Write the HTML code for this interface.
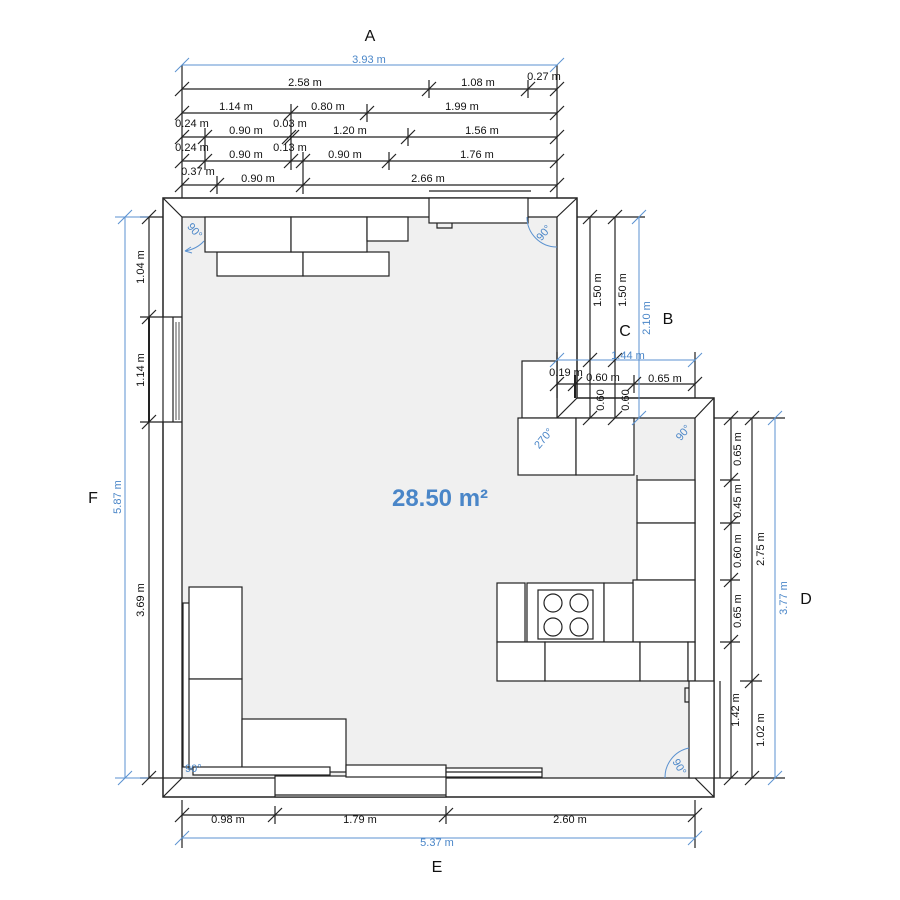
<!DOCTYPE html>
<html><head><meta charset="utf-8"><style>
html,body{margin:0;padding:0;background:#fff}
svg{display:block}
text{font-family:"Liberation Sans",sans-serif;font-size:11px;fill:#111}
.b{fill:#4a86c8}
.k{stroke:#222;stroke-width:1.2;fill:none}
.kb{stroke:#222;stroke-width:1.2;fill:#fff}
.bl{stroke:#5b92d0;stroke-width:1;fill:none}
</style></head><body>
<svg width="900" height="900" viewBox="0 0 900 900" xmlns="http://www.w3.org/2000/svg">
<defs>
<g id="t"><line x1="-7" y1="7" x2="7" y2="-7" stroke="#222" stroke-width="1.2"/></g>
<g id="tb"><line x1="-7" y1="7" x2="7" y2="-7" stroke="#5b92d0" stroke-width="1"/></g>
</defs>

<!-- walls -->
<polygon points="163,198 577,198 577,398 714,398 714,797 163,797" fill="#fff" stroke="#222" stroke-width="1.5"/>
<polygon points="182,217 557,217 557,418 695,418 695,778 182,778" fill="#f0f0f0" stroke="#222" stroke-width="1.3"/>
<line class="k" x1="163" y1="198" x2="182" y2="217"/>
<line class="k" x1="577" y1="198" x2="557" y2="217"/>
<line class="k" x1="577" y1="398" x2="557" y2="418"/>
<line class="k" x1="714" y1="398" x2="695" y2="418"/>
<line class="k" x1="714" y1="797" x2="695" y2="778"/>
<line class="k" x1="163" y1="797" x2="182" y2="778"/>
<!-- left window -->
<rect x="150" y="317" width="31" height="105" fill="#fff"/>
<line class="k" x1="163" y1="317" x2="182" y2="317"/>
<line class="k" x1="163" y1="422" x2="182" y2="422"/>
<line class="k" x1="163" y1="317" x2="163" y2="422"/>
<line class="k" x1="173" y1="317" x2="173" y2="422"/>
<line stroke="#222" stroke-width="0.8" x1="176" y1="322" x2="176" y2="420"/>
<line stroke="#222" stroke-width="0.8" x1="179" y1="322" x2="179" y2="420"/>
<!-- bottom door -->
<rect class="kb" x="275" y="776" width="171" height="21"/>
<line class="k" x1="275" y1="795" x2="446" y2="795"/>
<!-- top appliance -->
<rect class="kb" x="429" y="198" width="99" height="25"/>
<line class="k" x1="429" y1="191" x2="531" y2="191"/>
<path class="k" d="M437,223 v5 h15 v-5" stroke-width="2"/>

<!-- top cabinets -->
<rect class="kb" x="217" y="252" width="86" height="24"/>
<rect class="kb" x="303" y="252" width="86" height="24"/>
<rect class="kb" x="205" y="217" width="86" height="35"/>
<rect class="kb" x="291" y="217" width="76" height="35"/>
<rect class="kb" x="367" y="217" width="41" height="24" stroke-width="1.8"/>

<!-- right area cabinets -->
<rect class="kb" x="522" y="361" width="35" height="57"/>
<rect class="kb" x="518" y="418" width="58" height="57"/>
<rect class="kb" x="576" y="418" width="58" height="57"/>
<rect class="kb" x="637" y="480" width="58" height="43"/>
<rect class="kb" x="637" y="523" width="58" height="57"/>
<line class="k" x1="637" y1="475" x2="637" y2="480"/>
<rect class="kb" x="633" y="580" width="62" height="62"/>
<rect class="kb" x="497" y="583" width="28" height="59"/>
<rect class="kb" x="527" y="583" width="77" height="59"/>
<rect class="kb" x="604" y="583" width="29" height="59"/>
<rect class="kb" x="538" y="590" width="55" height="49"/>
<circle class="k" cx="553" cy="603" r="9"/><circle class="k" cx="579" cy="603" r="9"/>
<circle class="k" cx="553" cy="627" r="9"/><circle class="k" cx="579" cy="627" r="9"/>
<rect class="kb" x="497" y="642" width="48" height="39"/>
<rect class="kb" x="545" y="642" width="95" height="39"/>
<rect class="kb" x="640" y="642" width="48" height="39"/>
<rect class="kb" x="688" y="642" width="7" height="39"/>
<rect class="kb" x="689" y="681" width="25" height="97"/>
<path class="k" d="M689,688 h-4 v14 h4" stroke-width="2"/>

<!-- left furniture -->
<rect class="kb" x="183" y="603" width="10" height="164"/>
<rect class="kb" x="189" y="587" width="53" height="92"/>
<rect class="kb" x="189" y="679" width="53" height="90"/>
<rect class="kb" x="242" y="719" width="104" height="53"/>
<rect class="kb" x="193" y="767" width="137" height="8"/>
<rect class="kb" x="346" y="765" width="100" height="12"/>
<rect class="kb" x="446" y="768" width="96" height="9"/>
<line class="k" x1="446" y1="772" x2="542" y2="772"/>

<!-- angle arcs -->
<path class="bl" d="M204,241 Q197,249 185,251"/><path class="bl" d="M185,251 l6,-4 M185,251 l7,2"/>
<text class="b" x="186" y="232" transform="rotate(50 192 230)" font-size="10">90°</text>
<path class="bl" d="M527,217 A30,30 0 0 0 557,247"/>
<text class="b" x="535" y="236" transform="rotate(-50 544 232)" font-size="10">90°</text>
<path class="bl" d="M665,778 A30,30 0 0 1 689,748"/>
<text class="b" x="673" y="770" transform="rotate(60 680 765)" font-size="10">90°</text>
<text class="b" x="531" y="442" transform="rotate(-50 543 437)" font-size="10">270°</text>
<text class="b" x="674" y="437" transform="rotate(-50 682 432)" font-size="10">90°</text>
<text class="b" x="185" y="772" font-size="9">90°</text>

<!-- area -->
<text x="440" y="506" text-anchor="middle" style="font-size:24px;font-weight:bold;fill:#4a86c8">28.50 m²</text>

<!-- top dims -->
<g class="k">
<line x1="182" y1="65" x2="182" y2="198"/><line x1="557" y1="65" x2="557" y2="198"/>
<line x1="182" y1="89" x2="557" y2="89"/>
<line x1="182" y1="113" x2="557" y2="113"/>
<line x1="182" y1="137" x2="557" y2="137"/>
<line x1="182" y1="161" x2="557" y2="161"/>
<line x1="182" y1="185" x2="557" y2="185"/>
<line x1="429" y1="80" x2="429" y2="98"/><line x1="528" y1="80" x2="528" y2="98"/>
<line x1="291" y1="104" x2="291" y2="170"/><line x1="367" y1="104" x2="367" y2="122"/>
<line x1="205" y1="128" x2="205" y2="170"/><line x1="408" y1="128" x2="408" y2="146"/>
<line x1="303" y1="152" x2="303" y2="194"/><line x1="389" y1="152" x2="389" y2="170"/>
<line x1="217" y1="176" x2="217" y2="194"/>
</g>
<line class="bl" x1="182" y1="65" x2="557" y2="65"/>
<use href="#tb" x="182" y="65"/><use href="#tb" x="557" y="65"/>
<use href="#t" x="182" y="89"/><use href="#t" x="429" y="89"/><use href="#t" x="528" y="89"/><use href="#t" x="557" y="89"/>
<use href="#t" x="182" y="113"/><use href="#t" x="291" y="113"/><use href="#t" x="367" y="113"/><use href="#t" x="557" y="113"/>
<use href="#t" x="182" y="137"/><use href="#t" x="205" y="137"/><use href="#t" x="289" y="137"/><use href="#t" x="292" y="137"/><use href="#t" x="408" y="137"/><use href="#t" x="557" y="137"/>
<use href="#t" x="182" y="161"/><use href="#t" x="205" y="161"/><use href="#t" x="291" y="161"/><use href="#t" x="303" y="161"/><use href="#t" x="389" y="161"/><use href="#t" x="557" y="161"/>
<use href="#t" x="182" y="185"/><use href="#t" x="217" y="185"/><use href="#t" x="303" y="185"/><use href="#t" x="557" y="185"/>
<text class="b" x="369" y="63" text-anchor="middle">3.93 m</text>
<text x="305" y="86" text-anchor="middle">2.58 m</text><text x="478" y="86" text-anchor="middle">1.08 m</text><text x="544" y="80" text-anchor="middle">0.27 m</text>
<text x="236" y="110" text-anchor="middle">1.14 m</text><text x="328" y="110" text-anchor="middle">0.80 m</text><text x="462" y="110" text-anchor="middle">1.99 m</text>
<text x="192" y="127" text-anchor="middle">0.24 m</text><text x="246" y="134" text-anchor="middle">0.90 m</text><text x="290" y="127" text-anchor="middle">0.03 m</text><text x="350" y="134" text-anchor="middle">1.20 m</text><text x="482" y="134" text-anchor="middle">1.56 m</text>
<text x="192" y="151" text-anchor="middle">0.24 m</text><text x="246" y="158" text-anchor="middle">0.90 m</text><text x="290" y="151" text-anchor="middle">0.13 m</text><text x="345" y="158" text-anchor="middle">0.90 m</text><text x="477" y="158" text-anchor="middle">1.76 m</text>
<text x="198" y="175" text-anchor="middle">0.37 m</text><text x="258" y="182" text-anchor="middle">0.90 m</text><text x="428" y="182" text-anchor="middle">2.66 m</text>
<text x="370" y="41" text-anchor="middle" style="font-size:16px">A</text>

<!-- left dims -->
<g class="k">
<line x1="149" y1="217" x2="149" y2="778"/>
<line x1="140" y1="217" x2="163" y2="217"/><line x1="140" y1="317" x2="163" y2="317"/><line x1="140" y1="422" x2="163" y2="422"/><line x1="140" y1="778" x2="182" y2="778"/>
</g>
<line stroke="#222" stroke-width="2" x1="149" y1="317" x2="149" y2="422"/>
<line class="bl" x1="125" y1="217" x2="125" y2="778"/>
<line class="bl" x1="115" y1="217" x2="149" y2="217"/><line class="bl" x1="115" y1="778" x2="149" y2="778"/>
<use href="#tb" x="125" y="217"/><use href="#tb" x="125" y="778"/>
<use href="#t" x="149" y="217"/><use href="#t" x="149" y="317"/><use href="#t" x="149" y="422"/><use href="#t" x="149" y="778"/>
<text x="146" y="267" text-anchor="middle" transform="rotate(-90 146 267)" dy="-2">1.04 m</text>
<text x="146" y="370" text-anchor="middle" transform="rotate(-90 146 370)" dy="-2">1.14 m</text>
<text x="146" y="600" text-anchor="middle" transform="rotate(-90 146 600)" dy="-2">3.69 m</text>
<text class="b" x="123" y="497" text-anchor="middle" transform="rotate(-90 123 497)" dy="-2">5.87 m</text>
<text x="93" y="503" text-anchor="middle" style="font-size:16px">F</text>

<!-- right upper dims -->
<g class="k">
<line x1="590" y1="217" x2="590" y2="418"/><line x1="615" y1="217" x2="615" y2="418"/>
<line x1="577" y1="217" x2="645" y2="217"/>
<line x1="557" y1="384" x2="695" y2="384"/>
<line x1="557" y1="352" x2="557" y2="398"/><line x1="695" y1="352" x2="695" y2="398"/>
<line x1="575" y1="375" x2="575" y2="398" stroke-width="2"/><line x1="634" y1="375" x2="634" y2="393"/>
</g>
<line class="bl" x1="639" y1="217" x2="639" y2="418"/>
<line class="bl" x1="557" y1="360" x2="695" y2="360"/>
<use href="#tb" x="639" y="217"/><use href="#tb" x="639" y="418"/><use href="#tb" x="557" y="360"/><use href="#tb" x="695" y="360"/>
<use href="#t" x="590" y="217"/><use href="#t" x="615" y="217"/><use href="#t" x="590" y="418"/><use href="#t" x="615" y="418"/>
<use href="#t" x="590" y="360"/><use href="#t" x="615" y="360"/>
<use href="#t" x="557" y="384"/><use href="#t" x="575" y="384"/><use href="#t" x="634" y="384"/><use href="#t" x="695" y="384"/>
<text x="601" y="290" text-anchor="middle" transform="rotate(-90 601 290)">1.50 m</text>
<text x="626" y="290" text-anchor="middle" transform="rotate(-90 626 290)">1.50 m</text>
<text class="b" x="650" y="318" text-anchor="middle" transform="rotate(-90 650 318)">2.10 m</text>
<text x="625" y="336" text-anchor="middle" style="font-size:16px">C</text>
<text x="668" y="324" text-anchor="middle" style="font-size:16px">B</text>
<text class="b" x="628" y="359" text-anchor="middle">1.44 m</text>
<text x="566" y="376" text-anchor="middle">0.19 m</text>
<text x="603" y="381" text-anchor="middle">0.60 m</text>
<text x="665" y="382" text-anchor="middle">0.65 m</text>
<text x="604" y="400" text-anchor="middle" transform="rotate(-90 604 400)">0.60</text>
<text x="629" y="400" text-anchor="middle" transform="rotate(-90 629 400)">0.60</text>

<!-- right dims -->
<g class="k">
<line x1="714" y1="418" x2="785" y2="418"/>
<line x1="720" y1="681" x2="720" y2="778"/>
<line x1="731" y1="418" x2="731" y2="778"/>
<line x1="752" y1="418" x2="752" y2="778"/>
<line x1="720" y1="480" x2="740" y2="480"/><line x1="720" y1="523" x2="740" y2="523"/><line x1="720" y1="580" x2="740" y2="580"/><line x1="720" y1="642" x2="740" y2="642"/>
<line x1="740" y1="681" x2="762" y2="681"/>
<line x1="714" y1="778" x2="785" y2="778"/>
</g>
<line class="bl" x1="775" y1="418" x2="775" y2="778"/>
<use href="#tb" x="775" y="418"/><use href="#tb" x="775" y="778"/>
<use href="#t" x="731" y="418"/><use href="#t" x="731" y="480"/><use href="#t" x="731" y="523"/><use href="#t" x="731" y="580"/><use href="#t" x="731" y="642"/><use href="#t" x="731" y="778"/>
<use href="#t" x="752" y="418"/><use href="#t" x="752" y="681"/><use href="#t" x="752" y="778"/>
<text x="741" y="449" text-anchor="middle" transform="rotate(-90 741 449)">0.65 m</text>
<text x="741" y="501" text-anchor="middle" transform="rotate(-90 741 501)">0.45 m</text>
<text x="741" y="551" text-anchor="middle" transform="rotate(-90 741 551)">0.60 m</text>
<text x="741" y="611" text-anchor="middle" transform="rotate(-90 741 611)">0.65 m</text>
<text x="739" y="710" text-anchor="middle" transform="rotate(-90 739 710)">1.42 m</text>
<text x="764" y="549" text-anchor="middle" transform="rotate(-90 764 549)">2.75 m</text>
<text x="764" y="730" text-anchor="middle" transform="rotate(-90 764 730)">1.02 m</text>
<text class="b" x="787" y="598" text-anchor="middle" transform="rotate(-90 787 598)">3.77 m</text>
<text x="806" y="604" text-anchor="middle" style="font-size:16px">D</text>

<!-- bottom dims -->
<g class="k">
<line x1="182" y1="800" x2="182" y2="848"/><line x1="695" y1="800" x2="695" y2="848"/>
<line x1="275" y1="806" x2="275" y2="824"/><line x1="446" y1="806" x2="446" y2="824"/>
<line x1="182" y1="815" x2="695" y2="815"/>
</g>
<line class="bl" x1="182" y1="838" x2="695" y2="838"/>
<use href="#tb" x="182" y="838"/><use href="#tb" x="695" y="838"/>
<use href="#t" x="182" y="815"/><use href="#t" x="275" y="815"/><use href="#t" x="446" y="815"/><use href="#t" x="695" y="815"/>
<text x="228" y="823" text-anchor="middle">0.98 m</text>
<text x="360" y="823" text-anchor="middle">1.79 m</text>
<text x="570" y="823" text-anchor="middle">2.60 m</text>
<text class="b" x="437" y="846" text-anchor="middle">5.37 m</text>
<text x="437" y="872" text-anchor="middle" style="font-size:16px">E</text>
</svg>
</body></html>
